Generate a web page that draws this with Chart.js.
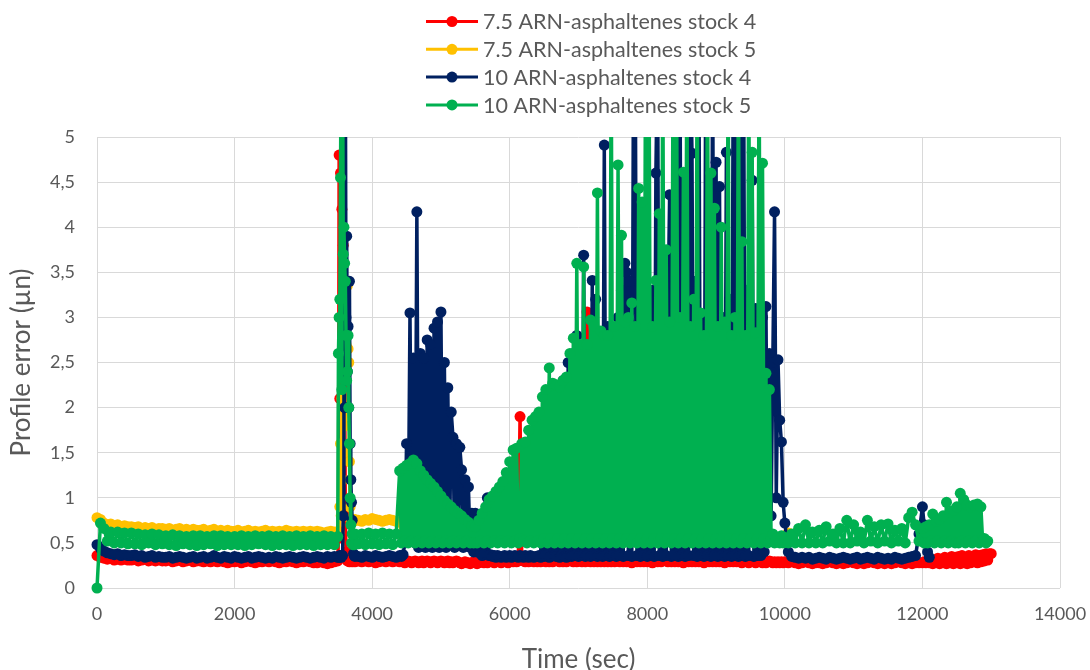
<!DOCTYPE html>
<html>
<head>
<meta charset="utf-8">
<title>Profile error vs time</title>
<script src="https://cdn.jsdelivr.net/npm/chart.js@4.4.1/dist/chart.umd.min.js"></script>
<style>
  html, body { margin: 0; padding: 0; background: #ffffff; }
  #wrap { width: 1090px; height: 670px; }
</style>
</head>
<body>
<div id="wrap"><canvas id="chart" width="1090" height="670"></canvas></div>
<script>
// Sampling instants (s)
const timeSec = [
  // 0–3450 s, every 50 s
  0,50,100,150,200,250,300,350,400,450,
  500,550,600,650,700,750,800,850,900,950,
  1000,1050,1100,1150,1200,1250,1300,1350,1400,1450,
  1500,1550,1600,1650,1700,1750,1800,1850,1900,1950,
  2000,2050,2100,2150,2200,2250,2300,2350,2400,2450,
  2500,2550,2600,2650,2700,2750,2800,2850,2900,2950,
  3000,3050,3100,3150,3200,3250,3300,3350,3400,3450,
  // 3500–3750 s, every 10 s
  3500,3510,3520,3530,3540,3550,3560,3570,3580,3590,3600,3610,3620,3630,3640,3650,3660,3670,3680,3690,3700,3710,3720,3730,3740,3750,
  // 3800–4350 s, every 50 s
  3800,3850,3900,3950,4000,4050,4100,4150,4200,4250,4300,4350,
  // 4400–9975 s, every 25 s
  4400,4425,4450,4475,4500,4525,4550,4575,4600,4625,4650,4675,4700,4725,4750,4775,4800,4825,4850,4875,
  4900,4925,4950,4975,5000,5025,5050,5075,5100,5125,5150,5175,5200,5225,5250,5275,5300,5325,5350,5375,
  5400,5425,5450,5475,5500,5525,5550,5575,5600,5625,5650,5675,5700,5725,5750,5775,5800,5825,5850,5875,
  5900,5925,5950,5975,6000,6025,6050,6075,6100,6125,6150,6175,6200,6225,6250,6275,6300,6325,6350,6375,
  6400,6425,6450,6475,6500,6525,6550,6575,6600,6625,6650,6675,6700,6725,6750,6775,6800,6825,6850,6875,
  6900,6925,6950,6975,7000,7025,7050,7075,7100,7125,7150,7175,7200,7225,7250,7275,7300,7325,7350,7375,
  7400,7425,7450,7475,7500,7525,7550,7575,7600,7625,7650,7675,7700,7725,7750,7775,7800,7825,7850,7875,
  7900,7925,7950,7975,8000,8025,8050,8075,8100,8125,8150,8175,8200,8225,8250,8275,8300,8325,8350,8375,
  8400,8425,8450,8475,8500,8525,8550,8575,8600,8625,8650,8675,8700,8725,8750,8775,8800,8825,8850,8875,
  8900,8925,8950,8975,9000,9025,9050,9075,9100,9125,9150,9175,9200,9225,9250,9275,9300,9325,9350,9375,
  9400,9425,9450,9475,9500,9525,9550,9575,9600,9625,9650,9675,9700,9725,9750,9775,9800,9825,9850,9875,
  9900,9925,9950,9975,
  // 10000–11950 s, every 50 s
  10000,10050,10100,10150,10200,10250,10300,10350,10400,10450,
  10500,10550,10600,10650,10700,10750,10800,10850,10900,10950,
  11000,11050,11100,11150,11200,11250,11300,11350,11400,11450,
  11500,11550,11600,11650,11700,11750,11800,11850,11900,11950,
  // 12000–12975 s, every 25 s
  12000,12025,12050,12075,12100,12125,12150,12175,12200,12225,12250,12275,12300,12325,12350,12375,12400,12425,12450,12475,
  12500,12525,12550,12575,12600,12625,12650,12675,12700,12725,12750,12775,12800,12825,12850,12875,12900,12925,12950,12975,
  13000
];

// 7.5 ARN-asphaltenes stock 4 (µn)
const ar75Stock4 = [
  0.36,0.34,0.33,0.32,0.33,0.31,0.32,0.31,0.32,0.31,
  0.31,0.32,0.30,0.31,0.32,0.30,0.31,0.30,0.31,0.30,
  0.30,0.31,0.29,0.30,0.31,0.29,0.30,0.31,0.29,0.30,
  0.30,0.29,0.30,0.29,0.30,0.29,0.30,0.29,0.28,0.29,
  0.29,0.30,0.28,0.29,0.30,0.29,0.28,0.29,0.29,0.30,
  0.29,0.30,0.29,0.28,0.29,0.29,0.30,0.29,0.28,0.29,
  0.29,0.30,0.29,0.28,0.28,0.29,0.28,0.27,0.28,0.29,
  0.30,0.55,4.8,2.1,4.6,3.2,4.2,2.6,3.8,1.5,2.2,0.8,0.4,0.32,0.30,0.31,0.30,0.29,0.30,0.31,0.30,0.29,0.30,0.31,0.30,0.29,
  0.30,0.29,0.30,0.29,0.30,0.28,0.29,0.30,0.29,0.30,0.29,0.30,
  0.29,0.30,0.29,0.28,0.29,0.30,0.29,0.28,0.29,0.30,0.29,0.28,0.29,0.30,0.28,0.29,0.30,0.29,0.28,0.29,
  0.30,0.29,0.28,0.29,0.30,0.29,0.28,0.29,0.30,0.28,0.29,0.28,0.29,0.30,0.29,0.28,0.27,0.28,0.29,0.28,
  0.28,0.27,0.28,0.29,0.28,0.27,0.28,0.29,0.30,0.28,0.29,0.28,0.29,0.30,0.29,0.28,0.29,0.30,0.29,0.28,
  0.29,0.30,0.29,0.28,0.29,0.30,0.29,0.30,0.29,0.30,1.90,0.31,0.30,0.29,0.30,0.29,0.30,0.31,0.29,0.30,
  0.29,0.30,0.29,0.30,0.31,0.29,0.30,0.29,0.30,0.29,0.30,0.31,0.30,0.29,0.30,0.29,0.30,0.29,0.30,0.31,
  0.30,0.29,0.30,0.29,0.30,0.31,0.29,0.30,0.29,3.06,0.30,0.29,0.30,0.29,0.30,0.29,0.30,0.29,0.30,0.29,
  0.30,0.29,0.30,0.29,0.30,0.29,0.31,0.30,0.29,0.30,0.29,0.30,0.29,0.30,0.29,0.28,0.29,0.30,0.29,0.30,
  0.29,0.30,0.29,0.30,0.29,0.30,0.29,0.28,0.29,0.30,0.29,0.30,0.29,0.30,0.31,0.30,0.29,0.30,0.29,0.30,
  0.29,0.30,0.29,0.30,0.29,0.28,0.29,0.30,0.29,0.30,0.29,0.30,0.29,0.30,0.29,0.30,0.29,0.28,0.29,0.30,
  0.29,0.30,0.29,0.30,0.29,0.30,0.29,0.30,0.29,0.28,0.29,0.30,0.29,0.30,0.29,0.30,0.29,0.30,0.29,0.28,
  0.29,0.30,0.29,0.28,0.29,0.30,0.29,0.28,0.29,0.30,0.29,0.28,0.29,0.28,0.29,0.30,0.29,0.28,0.29,0.28,
  0.29,0.28,0.29,0.28,
  0.29,0.28,0.29,0.28,0.27,0.28,0.29,0.28,0.27,0.28,
  0.28,0.27,0.28,0.29,0.28,0.27,0.28,0.27,0.28,0.29,
  0.28,0.27,0.28,0.27,0.28,0.29,0.28,0.27,0.28,0.27,
  0.28,0.27,0.28,0.29,0.28,0.27,0.28,0.27,0.28,0.28,
  0.28,0.29,0.28,0.30,0.28,0.29,0.27,0.31,0.28,0.33,0.27,0.32,0.28,0.34,0.27,0.33,0.28,0.35,0.27,0.34,
  0.28,0.35,0.27,0.36,0.28,0.34,0.27,0.36,0.28,0.35,0.29,0.37,0.28,0.36,0.29,0.37,0.30,0.38,0.31,0.38,
  0.38
];

// 7.5 ARN-asphaltenes stock 5 (µn)
const ar75Stock5 = [
  0.78,0.76,0.72,0.70,0.71,0.69,0.70,0.68,0.69,0.68,
  0.68,0.67,0.68,0.66,0.67,0.66,0.67,0.65,0.66,0.66,
  0.65,0.66,0.64,0.65,0.66,0.64,0.65,0.64,0.65,0.64,
  0.64,0.65,0.63,0.64,0.65,0.63,0.64,0.63,0.64,0.63,
  0.63,0.64,0.62,0.63,0.64,0.62,0.63,0.62,0.63,0.64,
  0.62,0.63,0.62,0.63,0.62,0.64,0.63,0.62,0.63,0.62,
  0.63,0.62,0.63,0.62,0.63,0.62,0.61,0.62,0.63,0.62,
  0.62,0.63,0.62,0.9,1.6,0.8,2.1,1.2,2.5,1.5,2.2,1.8,2.7,2.0,3.35,2.65,2.5,1.4,0.9,0.76,0.74,0.75,0.76,0.74,0.75,0.76,
  0.75,0.74,0.76,0.75,0.77,0.76,0.75,0.74,0.75,0.76,0.75,0.74,
  0.73,0.60,0.56,0.55,0.56,0.55,0.54,0.55,0.56,0.55,0.54,0.55,0.56,0.55,0.54,0.55,0.56,0.55,0.54,0.55,
  0.55,0.56,0.55,0.54,0.55,0.56,0.55,0.54,0.55,0.56,0.55,0.54,0.55,0.56,0.55,0.54,0.55,0.56,0.55,0.54,
  0.54,0.55,0.56,0.55,0.54,0.55,0.56,0.55,0.54,0.55,0.56,0.55,0.54,0.55,0.56,0.55,0.54,0.55,0.56,0.55,
  0.55,0.56,0.55,0.54,0.55,0.56,0.55,0.54,0.55,0.56,0.55,0.54,0.55,0.56,0.55,0.54,0.55,0.56,0.55,0.54,
  0.54,0.55,0.56,0.55,0.54,0.55,0.56,0.55,0.54,0.55,0.56,0.55,0.54,0.55,0.56,0.55,0.54,0.55,0.56,0.55,
  0.55,0.56,0.55,0.54,0.55,0.56,0.55,0.54,0.55,0.56,0.55,0.54,0.55,0.56,0.55,0.54,0.55,0.56,0.55,0.54,
  0.54,0.55,0.56,0.55,0.54,0.55,0.56,0.55,0.54,0.55,0.56,0.55,0.54,0.55,0.56,0.55,0.54,0.55,0.56,0.55,
  0.55,0.56,0.55,0.54,0.55,0.56,0.55,0.54,0.55,0.56,0.55,0.54,0.55,0.56,0.55,0.54,0.55,0.56,0.55,0.54,
  0.54,0.55,0.56,0.55,0.54,0.55,0.56,0.55,0.54,0.55,0.56,0.55,0.54,0.55,0.56,0.55,0.54,0.55,0.56,0.55,
  0.55,0.56,0.55,0.54,0.55,0.56,0.55,0.54,0.55,0.56,0.55,0.54,0.55,0.56,0.55,0.54,0.55,0.56,0.55,0.54,
  0.54,0.55,0.56,0.55,0.54,0.55,0.56,0.55,0.54,0.55,0.56,0.55,0.54,0.55,0.56,0.55,0.54,0.55,0.56,0.55,
  0.56,0.55,0.57,0.56,
  0.58,0.61,null,null,null,null,null,null,null,null,
  null,null,null,null,null,null,null,null,null,null,
  null,null,null,null,null,null,null,null,null,null,
  null,null,null,null,null,null,null,null,null,null,
  null,null,null,null,null,null,null,null,null,null,null,null,null,null,null,null,null,null,null,null,
  null,null,null,null,null,null,null,null,null,null,null,null,null,null,null,null,null,null,null,null,
  null
];

// 10 ARN-asphaltenes stock 4 (µn)
const ar10Stock4 = [
  0.48,0.44,0.41,0.39,0.38,0.37,0.38,0.36,0.37,0.36,
  0.36,0.37,0.35,0.36,0.34,0.35,0.36,0.34,0.35,0.34,
  0.34,0.35,0.33,0.34,0.35,0.34,0.33,0.34,0.35,0.33,
  0.34,0.35,0.33,0.34,0.36,0.34,0.33,0.35,0.34,0.33,
  0.35,0.34,0.33,0.34,0.35,0.33,0.34,0.35,0.34,0.33,
  0.34,0.33,0.35,0.34,0.33,0.34,0.35,0.34,0.33,0.34,
  0.35,0.34,0.33,0.34,0.35,0.34,0.33,0.35,0.34,0.35,
  0.34,0.35,0.34,0.36,0.35,0.34,0.36,0.36,0.8,6.0,2.0,6.0,3.0,3.9,2.4,2.9,2.0,3.4,1.6,1.2,0.95,0.75,0.5,0.38,0.36,0.35,
  0.35,0.34,0.36,0.35,0.34,0.36,0.35,0.34,0.35,0.36,0.35,0.34,
  0.36,0.35,0.37,0.5,1.6,0.6,3.05,0.7,2.55,0.5,4.17,0.45,2.6,0.5,2.55,0.45,2.75,0.5,2.7,0.45,
  2.88,0.5,2.95,0.45,3.06,0.5,2.5,0.45,2.22,0.5,1.95,1.67,0.45,1.6,0.5,1.56,1.31,0.45,1.2,0.5,
  1.12,0.45,0.83,0.4,0.83,0.4,0.7,0.38,0.36,0.6,0.38,1.0,0.36,0.37,0.35,0.36,0.34,0.36,0.35,0.34,
  0.35,0.36,0.34,0.35,0.36,0.34,0.35,0.36,0.35,0.34,0.36,0.35,0.34,0.36,0.35,0.34,0.36,0.35,0.34,0.35,
  0.35,0.36,0.34,1.6,0.35,0.36,1.9,0.34,0.35,2.0,0.36,0.35,2.1,0.34,0.36,2.3,0.35,0.34,2.5,0.36,
  0.35,2.6,0.36,2.8,0.35,2.5,0.36,3.69,0.35,0.36,1.2,0.35,3.41,0.36,3.2,0.35,2.7,0.36,0.35,4.91,
  0.36,2.9,0.35,2.6,0.36,2.8,0.35,3.0,0.36,3.3,0.35,3.6,3.5,0.36,3.4,0.35,6.0,6.0,0.36,3.5,
  0.35,2.9,0.36,3.0,0.35,3.2,0.36,3.3,0.35,4.6,6.0,0.36,3.2,0.35,3.3,0.36,3.0,4.36,0.35,3.1,
  0.36,2.9,0.35,6.0,0.36,3.0,0.35,3.3,0.36,6.0,4.82,0.36,3.4,0.35,6.0,0.36,3.0,0.35,6.0,0.36,
  2.9,0.35,6.0,0.36,4.72,0.35,4.45,0.36,3.0,0.35,4.83,0.36,3.2,0.35,6.0,0.36,6.0,0.35,6.0,0.36,
  6.0,0.35,3.3,0.36,3.0,4.52,0.35,3.1,0.36,2.9,0.36,3.0,0.4,3.12,0.6,2.6,0.8,2.5,4.17,1.0,
  2.53,1.86,1.62,0.95,
  0.72,0.4,0.35,0.34,0.33,0.34,0.33,0.34,0.32,0.33,
  0.34,0.33,0.32,0.34,0.33,0.32,0.33,0.34,0.33,0.32,
  0.33,0.34,0.32,0.33,0.34,0.33,0.32,0.34,0.33,0.32,
  0.33,0.32,0.34,0.33,0.32,0.33,0.34,0.35,0.36,0.6,
  0.9,0.7,0.55,0.4,0.34,null,null,null,null,null,null,null,null,null,null,null,null,null,null,null,
  null,null,null,null,null,null,null,null,null,null,null,null,null,null,null,null,null,null,null,null,
  null
];

// 10 ARN-asphaltenes stock 5 (µn)
const ar10Stock5 = [
  0,0.72,0.66,0.52,0.62,0.5,0.62,0.5,0.61,0.49,
  0.61,0.49,0.6,0.48,0.59,0.5,0.6,0.48,0.59,0.49,
  0.58,0.48,0.59,0.47,0.58,0.49,0.57,0.48,0.58,0.47,
  0.58,0.48,0.57,0.49,0.58,0.47,0.58,0.48,0.57,0.48,
  0.57,0.48,0.58,0.47,0.57,0.48,0.58,0.49,0.57,0.48,
  0.58,0.47,0.57,0.48,0.58,0.48,0.57,0.47,0.58,0.48,
  0.57,0.48,0.58,0.47,0.57,0.48,0.58,0.48,0.57,0.48,
  0.57,2.6,3.0,3.2,4.55,6.0,2.2,6.0,3.7,4.0,3.6,3.4,2.8,2.3,2.4,2.8,2.0,1.6,1.0,0.7,0.5,0.6,0.48,0.58,0.48,0.6,
  0.49,0.6,0.48,0.61,0.49,0.6,0.48,0.61,0.49,0.6,0.48,0.6,
  1.3,0.5,1.33,0.52,1.36,0.5,1.38,0.52,1.42,0.5,1.38,0.52,1.3,0.5,1.25,0.52,1.2,0.5,1.16,0.52,
  1.12,0.5,1.07,0.52,1.02,0.5,0.97,0.52,0.93,0.5,0.9,0.52,0.86,0.5,0.83,0.52,0.8,0.5,0.76,0.52,
  0.73,0.5,0.69,0.5,0.68,0.5,0.75,0.52,0.83,0.5,0.9,0.52,0.98,0.5,1.02,0.52,1.07,0.5,1.12,0.52,
  1.18,0.5,1.28,0.52,1.4,0.5,1.53,0.52,1.55,0.5,0.55,1.6,0.52,1.62,0.5,1.75,0.52,1.86,0.5,1.9,
  0.52,1.95,0.5,2.12,0.55,2.2,0.5,2.44,0.55,2.27,0.5,2.25,0.55,2.23,0.5,2.3,0.55,2.34,0.5,2.6,
  0.55,2.77,0.5,3.6,0.55,2.7,0.5,3.56,0.55,2.7,0.5,2.97,0.55,2.9,0.5,4.38,0.55,2.85,0.5,2.8,
  0.55,2.8,0.5,6.0,0.55,2.9,0.5,4.69,0.55,3.91,0.5,2.95,0.55,3.0,0.5,3.16,0.55,2.9,0.5,4.43,
  0.55,4.28,0.5,6.0,0.55,6.0,0.5,2.9,0.55,3.41,0.5,4.15,0.55,6.0,0.5,3.75,0.55,2.95,0.5,6.0,
  0.55,6.0,0.5,3.0,0.55,4.61,0.5,6.0,0.55,2.9,0.5,3.2,0.55,6.0,0.5,3.05,0.55,2.8,0.5,6.0,
  0.55,4.6,0.5,4.21,0.55,2.9,0.5,4.0,0.55,2.95,0.5,6.0,0.55,2.8,0.5,3.0,0.55,6.0,0.5,3.84,
  0.55,2.8,0.5,6.0,0.55,4.83,0.5,2.83,0.55,6.0,0.5,4.71,0.55,2.38,0.5,2.2,0.55,0.6,0.5,0.55,
  0.56,0.5,0.58,0.5,
  0.56,0.5,0.6,0.5,0.66,0.5,0.7,0.5,0.62,0.5,
  0.64,0.5,0.68,0.52,0.6,0.5,0.66,0.5,0.75,0.5,
  0.7,0.52,0.62,0.5,0.75,0.52,0.68,0.5,0.7,0.52,
  0.71,0.5,0.64,0.52,0.66,0.5,0.78,0.84,0.7,0.52,
  0.66,0.5,0.68,0.5,0.7,0.52,0.82,0.5,0.74,0.52,0.76,0.5,0.8,0.52,0.95,0.5,0.84,0.52,0.86,0.5,
  0.9,0.5,1.05,0.52,0.98,0.5,0.92,0.52,0.9,0.5,0.92,0.52,0.93,0.5,0.9,0.52,0.55,0.5,0.52,null,
  null
];

const seriesLabels = [
  '7.5 ARN-asphaltenes stock 4',
  '7.5 ARN-asphaltenes stock 5',
  '10 ARN-asphaltenes stock 4',
  '10 ARN-asphaltenes stock 5'
];
const seriesColors = ['#FF0000', '#FFC000', '#002060', '#00B050'];
const seriesValues = [ar75Stock4, ar75Stock5, ar10Stock4, ar10Stock5];

const xTickStep = 2000, xMax = 14000;
const yTickStep = 0.5, yMax = 5;

seriesValues.forEach((vals, i) => {
  if (vals.length !== timeSec.length) {
    throw new Error(seriesLabels[i] + ': ' + vals.length + ' values for ' + timeSec.length + ' times');
  }
});

const TEXT = '#595959';
const FONT = 'Lato, "Liberation Sans", sans-serif';

// Four-row legend above the plot: line sample with a dot, then the label
const stackedLegend = {
  id: 'stackedLegend',
  afterDraw(chart) {
    const o = chart.options.plugins.stackedLegend;
    const ctx = chart.ctx;
    ctx.save();
    ctx.font = o.fontSize + 'px ' + FONT;
    ctx.textBaseline = 'middle';
    ctx.textAlign = 'left';
    chart.data.datasets.forEach((ds, i) => {
      const y = o.top + i * o.rowHeight;
      ctx.strokeStyle = ds.borderColor;
      ctx.lineWidth = 3;
      ctx.beginPath();
      ctx.moveTo(o.x, y);
      ctx.lineTo(o.x + o.lineLength, y);
      ctx.stroke();
      ctx.fillStyle = ds.pointBackgroundColor;
      ctx.beginPath();
      ctx.arc(o.x + o.lineLength / 2, y, o.dotRadius, 0, Math.PI * 2);
      ctx.fill();
      ctx.fillStyle = TEXT;
      ctx.fillText(ds.label, o.x + o.lineLength + o.gap, y + 1);
    });
    ctx.restore();
  }
};

const datasets = seriesValues.map((vals, i) => ({
  label: seriesLabels[i],
  data: timeSec.map((t, k) => ({ x: t, y: vals[k] })),
  borderColor: seriesColors[i],
  backgroundColor: seriesColors[i],
  pointBackgroundColor: seriesColors[i],
  pointBorderWidth: 0,
  pointRadius: 5.5,
  borderWidth: 3.5,
  borderJoinStyle: 'round',
  borderCapStyle: 'round',
  tension: 0,
  spanGaps: false,
  order: 4 - i,
  clip: { left: 10, top: 0, right: 10, bottom: 10 }
}));

new Chart(document.getElementById('chart'), {
  type: 'line',
  data: { datasets },
  plugins: [stackedLegend],
  options: {
    responsive: false,
    animation: false,
    devicePixelRatio: 1,
    layout: { padding: { top: 137, right: 30, left: 0, bottom: 0 } },
    plugins: {
      legend: { display: false },
      tooltip: { enabled: false },
      stackedLegend: { x: 426, top: 21.5, rowHeight: 27.8, lineLength: 52, dotRadius: 5.5, gap: 5, fontSize: 21.5 }
    },
    scales: {
      x: {
        type: 'linear',
        min: 0,
        max: xMax,
        ticks: {
          stepSize: xTickStep,
          color: TEXT,
          font: { family: FONT, size: 18 },
          padding: 15,
          maxRotation: 0,
          callback: (v) => String(v)
        },
        grid: { color: '#d9d9d9', lineWidth: 1, drawTicks: false },
        border: { display: false },
        title: {
          display: true,
          text: 'Time (sec)',
          color: TEXT,
          font: { family: FONT, size: 26, lineHeight: 1 },
          padding: { top: 0, bottom: -3 }
        },
        afterFit: (scale) => {
          scale.height = 82;
          scale.paddingLeft = 0;
          scale.paddingRight = 0;
        }
      },
      y: {
        type: 'linear',
        min: 0,
        max: yMax,
        ticks: {
          stepSize: yTickStep,
          color: TEXT,
          font: { family: FONT, size: 18 },
          padding: 22,
          callback: (v) => String(Math.round(v * 10) / 10).replace('.', ',')
        },
        grid: { color: '#d9d9d9', lineWidth: 1, drawTicks: false },
        border: { display: false },
        title: {
          display: true,
          text: 'Profile error (µn)',
          color: TEXT,
          font: { family: FONT, size: 26, lineHeight: 1 },
          padding: { top: 9, bottom: 0 }
        },
        afterFit: (scale) => { scale.width = 97; }
      }
    }
  }
});
</script>
</body>
</html>
